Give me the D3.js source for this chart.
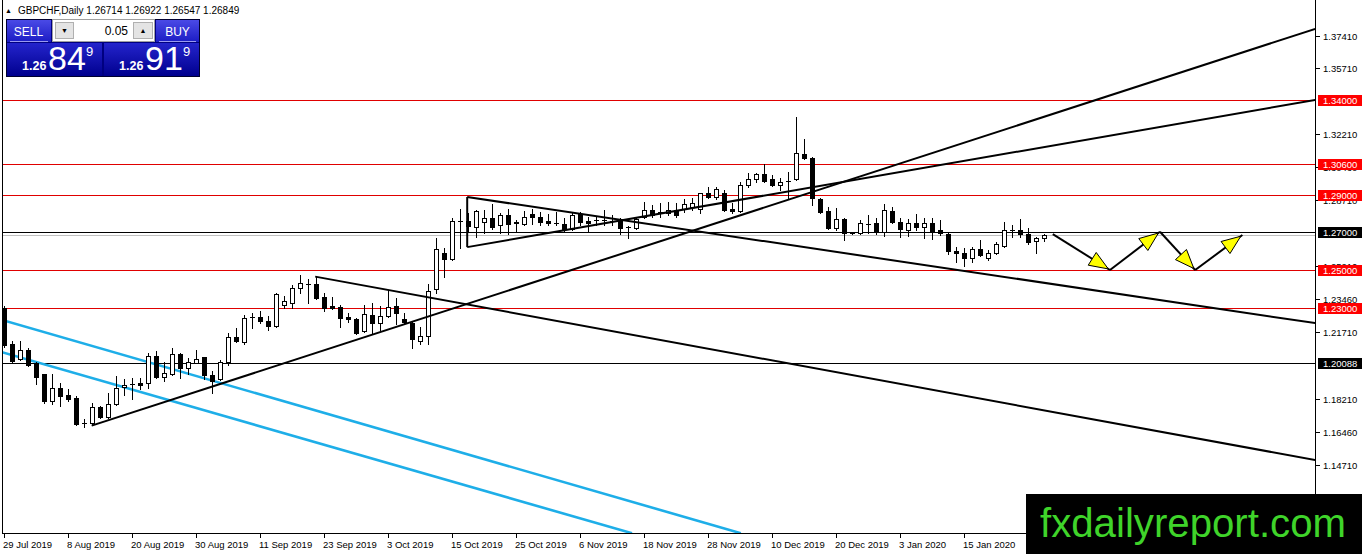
<!DOCTYPE html>
<html><head><meta charset="utf-8">
<script src="https://cdn.jsdelivr.net/npm/d3@7"></script>
<style>
body{margin:0;background:#fff;overflow:hidden}
svg{display:block}
text{font-family:"Liberation Sans",Arial,sans-serif}
</style>
</head><body>
<svg id="c" width="1362" height="554"></svg>
<script>
// ---------- DATA ----------
const symbol = "GBPCHF,Daily";
const dateLabels = ["29 Jul 2019","8 Aug 2019","20 Aug 2019","30 Aug 2019","11 Sep 2019","23 Sep 2019","3 Oct 2019","15 Oct 2019","25 Oct 2019","6 Nov 2019","18 Nov 2019","28 Nov 2019","10 Dec 2019","20 Dec 2019","3 Jan 2020","15 Jan 2020"];
const dateLabelStep = 8; // bars between date labels

const opens = [1.2300,1.2109,1.2030,1.2078,1.2009,1.1951,1.1808,1.1876,1.1839,1.1824,1.1691,1.1691,1.1776,1.1723,1.1792,1.1882,1.1898,1.1903,1.1903,1.2046,1.1935,1.1951,1.2056,1.1982,1.2009,1.2040,1.1945,1.1924,1.2014,1.2146,1.2120,1.2252,1.2252,1.2231,1.2204,1.2316,1.2326,1.2405,1.2427,1.2427,1.2358,1.2310,1.2305,1.2252,1.2241,1.2178,1.2263,1.2220,1.2257,1.2310,1.2241,1.2220,1.2125,1.2152,1.2400,1.2591,1.2559,1.2760,1.2760,1.2728,1.2755,1.2776,1.2739,1.2792,1.2755,1.2744,1.2797,1.2781,1.2760,1.2750,1.2744,1.2718,1.2797,1.2760,1.2765,1.2764,1.2762,1.2770,1.2728,1.2723,1.2781,1.2818,1.2808,1.2802,1.2818,1.2823,1.2834,1.2823,1.2908,1.2887,1.2908,1.2823,1.2813,1.2950,1.2982,1.3009,1.2982,1.2950,1.2972,1.2982,1.3114,1.3093,1.2876,1.2813,1.2723,1.2770,1.2697,1.2696,1.2744,1.2749,1.2702,1.2813,1.2755,1.2712,1.2749,1.2728,1.2749,1.2712,1.2691,1.2601,1.2591,1.2564,1.2612,1.2564,1.2591,1.2628,1.2712,1.2712,1.2691,1.2654,1.26714];
const highs = [1.2310,1.2125,1.2125,1.2088,1.2014,1.1953,1.1951,1.1903,1.1871,1.1834,1.1713,1.1797,1.1781,1.1850,1.1940,1.1924,1.1929,1.1929,1.2062,1.2072,1.2014,1.2088,1.2062,1.2035,1.2078,1.2042,1.1966,1.2025,1.2167,1.2194,1.2263,1.2273,1.2284,1.2257,1.2379,1.2363,1.2421,1.2474,1.2453,1.2469,1.2379,1.2358,1.2316,1.2273,1.2247,1.2316,1.2326,1.2310,1.2395,1.2353,1.2273,1.2231,1.2199,1.2427,1.2670,1.2617,1.2776,1.2823,1.2802,1.2818,1.2818,1.2850,1.2802,1.2823,1.2765,1.2813,1.2823,1.2808,1.2797,1.2808,1.2776,1.2802,1.2808,1.2781,1.2781,1.2818,1.2792,1.2776,1.2733,1.2781,1.2860,1.2845,1.2855,1.2860,1.2855,1.2876,1.2882,1.2910,1.2940,1.2940,1.2924,1.2855,1.2966,1.3014,1.3014,1.3061,1.3003,1.2987,1.3019,1.3310,1.3194,1.3098,1.2882,1.2834,1.2829,1.2776,1.2702,1.2765,1.2792,1.2776,1.2850,1.2834,1.2776,1.2770,1.2797,1.2776,1.2776,1.2765,1.2696,1.2622,1.2617,1.2622,1.2659,1.2606,1.2649,1.2755,1.2739,1.2770,1.2723,1.2675,1.26922];
const lows = [1.2093,1.2014,1.2025,1.1995,1.1898,1.1797,1.1792,1.1781,1.1808,1.1681,1.1670,1.1688,1.1718,1.1720,1.1787,1.1839,1.1818,1.1871,1.1876,1.1932,1.1914,1.1945,1.1929,1.1951,1.2007,1.1924,1.1850,1.1919,1.1998,1.2120,1.2109,1.2194,1.2220,1.2183,1.2199,1.2300,1.2300,1.2379,1.2326,1.2347,1.2284,1.2294,1.2199,1.2226,1.2162,1.2173,1.2162,1.2183,1.2252,1.2215,1.2220,1.2088,1.2109,1.2109,1.2379,1.2464,1.2554,1.2617,1.2702,1.2675,1.2696,1.2718,1.2696,1.2691,1.2702,1.2739,1.2744,1.2739,1.2739,1.2739,1.2702,1.2712,1.2739,1.2702,1.2739,1.2739,1.2739,1.2691,1.2670,1.2718,1.2776,1.2781,1.2781,1.2792,1.2781,1.2808,1.2818,1.2802,1.2882,1.2876,1.2813,1.2802,1.2808,1.2940,1.2966,1.2966,1.2945,1.2924,1.2876,1.2977,1.3088,1.2845,1.2802,1.2718,1.2712,1.2659,1.2691,1.2694,1.2696,1.2691,1.2681,1.2749,1.2675,1.2681,1.2712,1.2670,1.2665,1.2686,1.2585,1.2543,1.2522,1.2543,1.2575,1.2554,1.2585,1.2622,1.2675,1.2675,1.2638,1.2591,1.26547];
const closes = [1.2104,1.2019,1.2078,1.1998,1.1935,1.1808,1.1876,1.1834,1.1818,1.1686,1.1693,1.1776,1.1723,1.1792,1.1876,1.1892,1.1899,1.1892,1.2046,1.1935,1.1956,1.2056,1.1982,1.2014,1.2030,1.1945,1.1914,1.2014,1.2146,1.2125,1.2247,1.2254,1.2231,1.2204,1.2374,1.2337,1.2405,1.2432,1.2426,1.2353,1.2300,1.2300,1.2247,1.2241,1.2167,1.2268,1.2220,1.2257,1.2305,1.2273,1.2226,1.2136,1.2152,1.2390,1.2612,1.2559,1.2760,1.2758,1.2733,1.2813,1.2776,1.2728,1.2792,1.2744,1.2749,1.2781,1.2781,1.2755,1.2749,1.2749,1.2718,1.2792,1.2755,1.2749,1.2764,1.2765,1.2759,1.2723,1.2727,1.2770,1.2818,1.2792,1.2807,1.2818,1.2792,1.2850,1.2855,1.2908,1.2887,1.2929,1.2818,1.2813,1.2950,1.2982,1.3009,1.2972,1.2950,1.2966,1.2971,1.3120,1.3093,1.2882,1.2808,1.2723,1.2770,1.2696,1.2696,1.2749,1.2745,1.2702,1.2818,1.2755,1.2718,1.2749,1.2728,1.2749,1.2707,1.2696,1.2601,1.2591,1.2564,1.2612,1.2580,1.2591,1.2638,1.2712,1.2713,1.2691,1.2649,1.2670,1.26849];

const priceTicks = [1.37410,1.35710,1.32210,1.30460,1.28710,1.25210,1.23460,1.21710,1.18210,1.16460,1.14710,1.12960];
const redLevels = [1.34000,1.30600,1.29000,1.25000,1.23000];
const blackLevels = [1.27000,1.20088];
const bidPrice = 1.26849;
const askPrice = 1.26919;
const lotSize = "0.05";

// trend lines: [barIndex, price] pairs
const blackTrendLines = [
  [[10.96,1.1678],[163.9,1.3776]],
  [[38.9,1.2466],[163.9,1.1496]],
  [[57.9,1.2887],[163.9,1.2220]],
  [[57.9,1.2622],[163.9,1.3400]],
  [[57.9,1.2887],[57.9,1.2622]]
];
const cyanLines = [
  [[-0.25,1.2237],[92.1,1.1109]],
  [[-0.25,1.2066],[78.5,1.1109]]
];
const arrows = [
  [[131.1,1.2691],[138.25,1.2501]],
  [[138.25,1.2501],[144.5,1.2703]],
  [[144.5,1.2703],[148.9,1.2501]],
  [[148.9,1.2501],[154.8,1.2686]]
];
const watermark = "fxdailyreport.com";

// ---------- LAYOUT ----------
const plotLeft = 0, plotRight = 1315, plotTop = 0, plotBottom = 533;
const x = d3.scaleLinear().domain([-0.5, 163.875]).range([plotLeft, plotRight]);
const y = d3.scaleLinear().domain([1.11102, 1.39288]).range([plotBottom, plotTop]);
const fmt = d3.format(".5f");

const svg = d3.select("#c");
svg.append("rect").attr("width",1362).attr("height",554).attr("fill","#fff");

const defs = svg.append("defs");
defs.append("clipPath").attr("id","plot").append("rect")
  .attr("x",2).attr("y",0).attr("width",plotRight-2).attr("height",plotBottom);

const g = svg.append("g").attr("clip-path","url(#plot)");
const sy = v => Math.round(y(v)) + 0.5;

// horizontal levels
g.selectAll(".red").data(redLevels).enter().append("line")
  .attr("x1",0).attr("x2",plotRight).attr("y1",d=>sy(d)).attr("y2",d=>sy(d))
  .attr("stroke","#e00000").attr("stroke-width",1);
g.append("line").attr("x1",0).attr("x2",plotRight).attr("y1",sy(bidPrice)).attr("y2",sy(bidPrice))
  .attr("stroke","#c0c0c0").attr("stroke-width",1);
g.selectAll(".blk").data(blackLevels).enter().append("line")
  .attr("x1",0).attr("x2",plotRight).attr("y1",d=>sy(d)).attr("y2",d=>sy(d))
  .attr("stroke","#000").attr("stroke-width",1);

// cyan channel
g.selectAll(".cy").data(cyanLines).enter().append("line")
  .attr("x1",d=>x(d[0][0])).attr("y1",d=>y(d[0][1]))
  .attr("x2",d=>x(d[1][0])).attr("y2",d=>y(d[1][1]))
  .attr("stroke","#1eaee8").attr("stroke-width",2.6);

// candles
const idx = d3.range(opens.length);
const cg = g.append("g");
idx.forEach(i=>{
  const px = Math.round(x(i));
  const o = opens[i], c = closes[i], h = highs[i], l = lows[i];
  cg.append("line").attr("x1",px+0.5).attr("x2",px+0.5)
    .attr("y1",Math.round(y(h))).attr("y2",Math.round(y(l))+1)
    .attr("stroke","#000").attr("stroke-width",1);
  const t = sy(Math.max(o,c)), b = sy(Math.min(o,c));
  if (b - t < 1) {
    cg.append("line").attr("x1",px-2).attr("x2",px+3).attr("y1",t).attr("y2",t)
      .attr("stroke","#000").attr("stroke-width",1);
  } else {
    cg.append("rect").attr("x",px-1.5).attr("y",t).attr("width",4).attr("height",b-t)
      .attr("fill", c >= o ? "#fff" : "#000").attr("stroke","#000").attr("stroke-width",1);
  }
});

// black trend lines
g.selectAll(".tl").data(blackTrendLines).enter().append("line")
  .attr("x1",d=>x(d[0][0])).attr("y1",d=>y(d[0][1]))
  .attr("x2",d=>x(d[1][0])).attr("y2",d=>y(d[1][1]))
  .attr("stroke","#000").attr("stroke-width",2);

// arrows
arrows.forEach(a=>{
  const x1=x(a[0][0]), y1=y(a[0][1]), x2=x(a[1][0]), y2=y(a[1][1]);
  g.append("line").attr("x1",x1).attr("y1",y1).attr("x2",x2).attr("y2",y2)
    .attr("stroke","#000").attr("stroke-width",2);
  const ang = Math.atan2(y2-y1, x2-x1);
  const L = 19, W = 7.5;
  const tx = x2 - 2*Math.cos(ang), ty = y2 - 2*Math.sin(ang);
  const bx = tx - L*Math.cos(ang), by = ty - L*Math.sin(ang);
  const pts = [[tx,ty],[bx - W*Math.sin(ang), by + W*Math.cos(ang)],[bx + W*Math.sin(ang), by - W*Math.cos(ang)]];
  g.append("polygon").attr("points",pts.map(p=>p.join(",")).join(" "))
    .attr("fill","#ffff00").attr("stroke","#000").attr("stroke-width",1);
});

// frame
svg.append("line").attr("x1",2.5).attr("x2",2.5).attr("y1",0).attr("y2",plotBottom+0.5).attr("stroke","#000");
svg.append("line").attr("x1",2).attr("x2",plotRight+1).attr("y1",plotBottom+0.5).attr("y2",plotBottom+0.5).attr("stroke","#000");
svg.append("line").attr("x1",plotRight+0.5).attr("x2",plotRight+0.5).attr("y1",0).attr("y2",plotBottom+1).attr("stroke","#000");

// right axis ticks
const ax = svg.append("g");
priceTicks.forEach(v=>{
  const yy = sy(v);
  ax.append("line").attr("x1",plotRight+1).attr("x2",plotRight+5).attr("y1",yy).attr("y2",yy).attr("stroke","#000");
  ax.append("text").attr("x",plotRight+8).attr("y",yy+3.5).attr("font-size",9.5).attr("fill","#000").text(fmt(v));
});
// level labels
function levelLabel(v, bg){
  const yy = y(v);
  ax.append("rect").attr("x",plotRight+3).attr("y",Math.round(yy)-5).attr("width",44).attr("height",11).attr("fill",bg);
  ax.append("text").attr("x",plotRight+8).attr("y",Math.round(yy)+4).attr("font-size",9.5).attr("fill","#fff").text(fmt(v));
}
redLevels.forEach(v=>levelLabel(v,"#ff0000"));
blackLevels.forEach(v=>levelLabel(v,"#000"));

// date axis
dateLabels.forEach((lab,k)=>{
  const px = Math.round(x(k*dateLabelStep));
  svg.append("line").attr("x1",px+0.5).attr("x2",px+0.5).attr("y1",plotBottom+1).attr("y2",plotBottom+5).attr("stroke","#000");
  svg.append("text").attr("x",px-1).attr("y",548).attr("font-size",9.5).attr("fill","#000").text(lab);
});

// header
const last = opens.length-1;
svg.append("text").attr("x",5).attr("y",13).attr("font-size",7).text("▲");
svg.append("text").attr("x",18).attr("y",14).attr("font-size",10).attr("fill","#000")
  .text(symbol + "  " + [opens[last],highs[last],lows[last],closes[last]].map(fmt).join(" "));

// trading panel
const gradBtn = defs.append("linearGradient").attr("id","gb").attr("x1",0).attr("y1",0).attr("x2",0).attr("y2",1);
gradBtn.append("stop").attr("offset","0").attr("stop-color","#4a4ae6");
gradBtn.append("stop").attr("offset","1").attr("stop-color","#1c1cc4");
const gradBox = defs.append("linearGradient").attr("id","gp").attr("x1",0).attr("y1",0).attr("x2",0).attr("y2",1);
gradBox.append("stop").attr("offset","0").attr("stop-color","#2424cc");
gradBox.append("stop").attr("offset","1").attr("stop-color","#00008e");

const pnl = svg.append("g");
pnl.append("rect").attr("x",6.5).attr("y",19.5).attr("width",193).attr("height",57).attr("fill","#000080").attr("stroke","#000030");
pnl.append("rect").attr("x",7).attr("y",20).attr("width",44).attr("height",22).attr("fill","url(#gb)");
pnl.append("line").attr("x1",10).attr("x2",48).attr("y1",41.5).attr("y2",41.5).attr("stroke","#9a9af0");
pnl.append("rect").attr("x",156).attr("y",20).attr("width",43).attr("height",22).attr("fill","url(#gb)");
pnl.append("line").attr("x1",159).attr("x2",196).attr("y1",41.5).attr("y2",41.5).attr("stroke","#9a9af0");
pnl.append("rect").attr("x",52.5).attr("y",19.5).attr("width",102).attr("height",22).attr("fill","#fff").attr("stroke","#a0a0a0");
pnl.append("rect").attr("x",55.5).attr("y",22.5).attr("width",18).attr("height",16).attr("fill","#e4e4e4").attr("stroke","#b0b0b0");
pnl.append("rect").attr("x",133.5).attr("y",22.5).attr("width",19).attr("height",16).attr("fill","#e4e4e4").attr("stroke","#b0b0b0");
pnl.append("text").attr("x",64.5).attr("y",33).attr("font-size",7).attr("text-anchor","middle").text("▼");
pnl.append("text").attr("x",143).attr("y",33).attr("font-size",7).attr("text-anchor","middle").text("▲");
pnl.append("text").attr("x",128).attr("y",35).attr("font-size",12).attr("text-anchor","end").attr("fill","#000").text(lotSize);
pnl.append("text").attr("x",28.5).attr("y",35.5).attr("font-size",12).attr("text-anchor","middle").attr("fill","#fff").text("SELL");
pnl.append("text").attr("x",177.5).attr("y",35.5).attr("font-size",12).attr("text-anchor","middle").attr("fill","#fff").text("BUY");
pnl.append("rect").attr("x",7).attr("y",43).attr("width",95).attr("height",33).attr("fill","url(#gp)");
pnl.append("rect").attr("x",104).attr("y",43).attr("width",95).attr("height",33).attr("fill","url(#gp)");
function priceText(p, x0){
  const s = p.toFixed(5);
  pnl.append("text").attr("x",x0).attr("y",70).attr("font-size",12.5).attr("font-weight","bold")
    .attr("font-family","'Open Sans',sans-serif").attr("fill","#fff").text(s.slice(0,4));
  pnl.append("text").attr("x",x0+26).attr("y",70).attr("font-size",34)
    .attr("font-family","'Open Sans',sans-serif").attr("fill","#fff").text(s.slice(4,6));
  pnl.append("text").attr("x",x0+64).attr("y",56).attr("font-size",13)
    .attr("font-family","'Open Sans',sans-serif").attr("fill","#fff").text(s.slice(6,7));
}
priceText(bidPrice, 22);
priceText(askPrice, 119);

// watermark
svg.append("rect").attr("x",1026).attr("y",494).attr("width",336).attr("height",60).attr("fill","#000");
svg.append("text").attr("x",1040).attr("y",537).attr("font-size",40).attr("fill","#3fd42a")
  .attr("textLength",306).attr("lengthAdjust","spacingAndGlyphs").text(watermark);
</script>
</body></html>
